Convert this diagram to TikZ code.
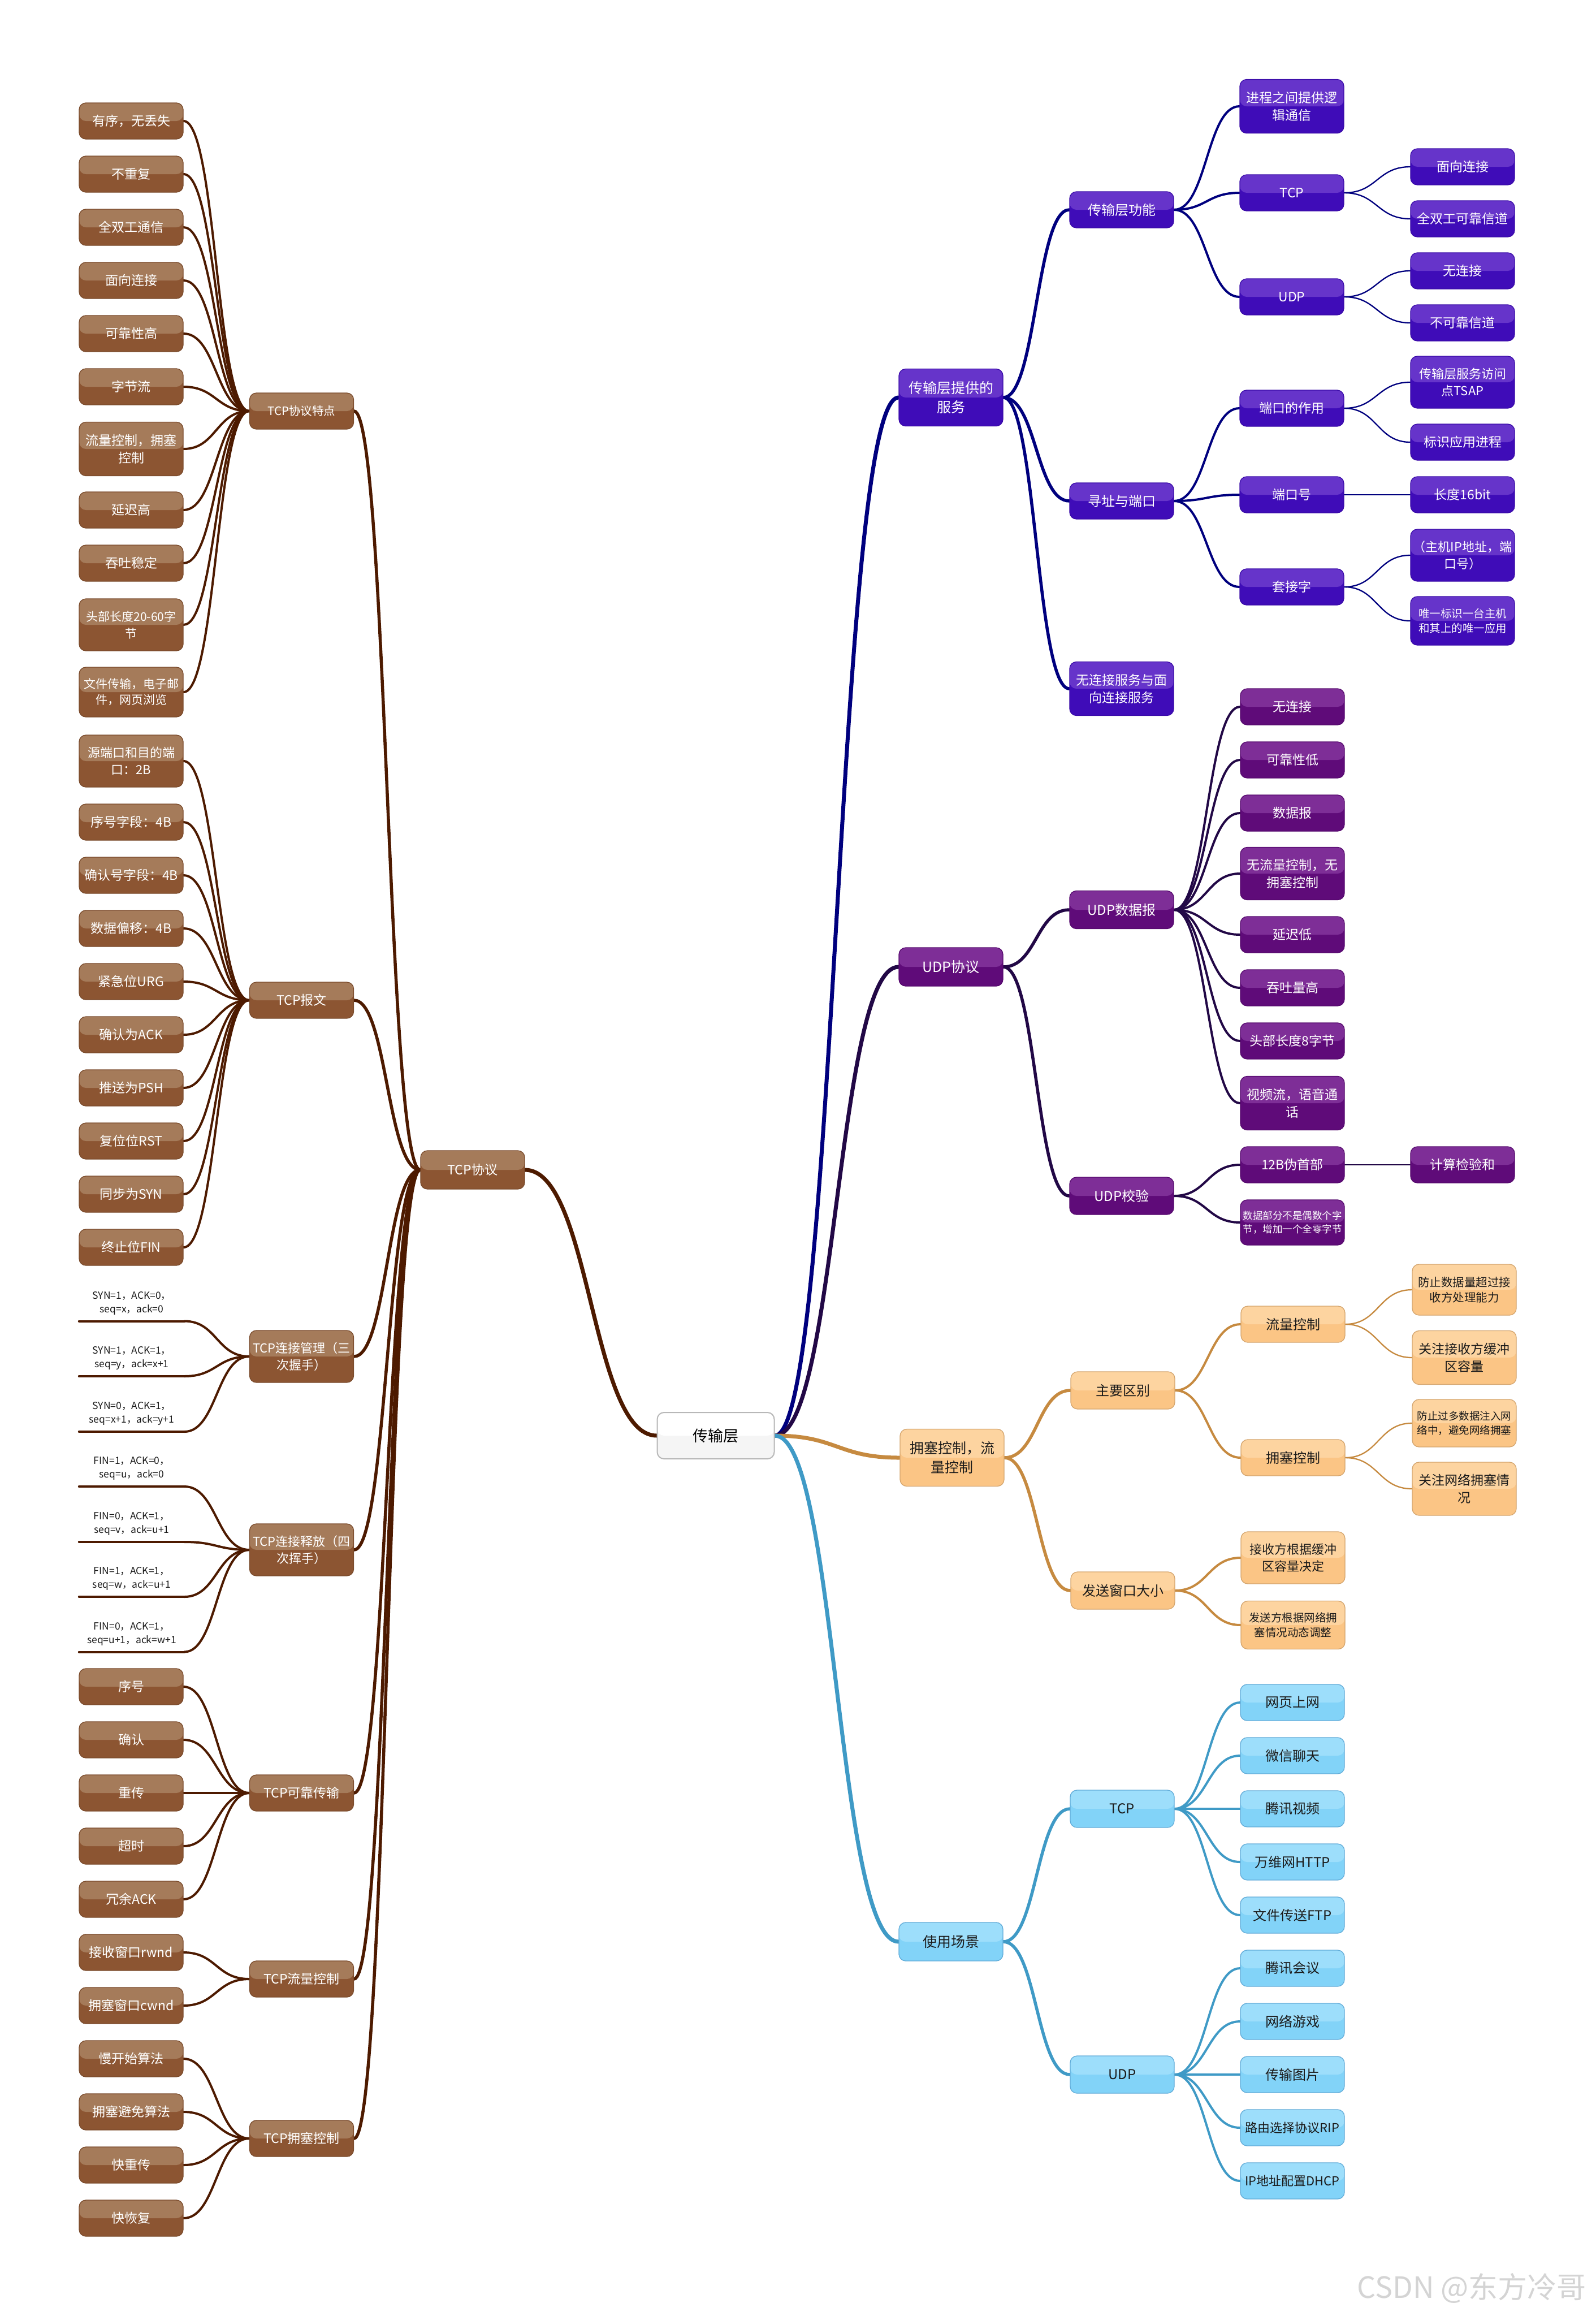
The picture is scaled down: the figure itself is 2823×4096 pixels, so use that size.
\documentclass[tikz,border=0pt]{standalone}
\usepackage{fontspec}
\setmainfont{Noto Sans CJK SC}
\usetikzlibrary{calc}
\definecolor{brT}{HTML}{A57B5A}
\definecolor{brB}{HTML}{8C5532}
\definecolor{brD}{HTML}{7A4B2C}
\definecolor{brE}{HTML}{4D1A00}
\definecolor{inT}{HTML}{6634CA}
\definecolor{inB}{HTML}{3F0CB8}
\definecolor{inD}{HTML}{3A0BA8}
\definecolor{inE}{HTML}{00007E}
\definecolor{puT}{HTML}{7E2E97}
\definecolor{puB}{HTML}{5F0B79}
\definecolor{puD}{HTML}{560A6E}
\definecolor{puE}{HTML}{220846}
\definecolor{orT}{HTML}{FDD4A0}
\definecolor{orB}{HTML}{FBC585}
\definecolor{orD}{HTML}{D4A56E}
\definecolor{orE}{HTML}{C68A40}
\definecolor{blT}{HTML}{9DDEFB}
\definecolor{blB}{HTML}{82D3F8}
\definecolor{blD}{HTML}{62ACD8}
\definecolor{blE}{HTML}{3F9AC6}
\definecolor{rtD}{HTML}{B8B8B8}
\definecolor{txD}{HTML}{1A1A1A}

\newcommand\myfs[2]{\fontsize{#1pt}{#2pt}\selectfont}
\newcommand\lnk[3]{\draw[#1] let \p1=(#2), \p2=(#3), \n1={0.5*(\x2-\x1)} in (\p1) .. controls (\x1+\n1,\y1) and (\x2-\n1,\y2) .. (\p2);}

\pgfdeclarelayer{paper}
\pgfdeclarelayer{bg}
\pgfsetlayers{paper,bg,main}

\tikzset{
 box/.style={rounded corners=12pt, minimum width=184pt, minimum height=64pt, inner sep=1pt, align=center, line width=1.3pt, font=\myfs{23}{31}},
 topfill/.style={path picture={\fill[#1] (path picture bounding box.north west) rectangle (path picture bounding box.east);}},
 nbr/.style={box, fill=brB, draw=brD, text=white, topfill=brT},
 nin/.style={box, fill=inB, draw=inD, text=white, topfill=inT},
 npu/.style={box, fill=puB, draw=puD, text=white, topfill=puT},
 nor/.style={box, fill=orB, draw=orD, text=txD, topfill=orT, font=\myfs{24}{32}},
 nbl/.style={box, fill=blB, draw=blD, text=txD, topfill=blT, font=\myfs{24}{32}},
 nrt/.style={box, fill=white!96!black, draw=rtD, text=black, topfill=white, line width=2pt},
 tleaf/.style={anchor=south, minimum width=186pt, inner xsep=0pt, inner ysep=11pt, align=center, font=\myfs{17.5}{24}, text=txD},
 eA/.style={line cap=round, line width=7pt},
 eB/.style={line cap=round, line width=5.5pt},
 eC/.style={line cap=round, line width=4pt},
 eD/.style={line cap=round, line width=2.3pt},
}

\begin{document}
\begin{tikzpicture}[x=1pt,y=-1pt]
\begin{pgfonlayer}{paper}
\fill[white] (0,0) rectangle (2823,4096);
\end{pgfonlayer}
\useasboundingbox (0,0) rectangle (2823,4096);

% ---------- root ----------
\node[nrt, minimum width=207pt, minimum height=82pt, font=\myfs{27}{32}] (root) at (1266,2539) {传输层};

% ---------- TCP protocol (left) ----------
\node[nbr, minimum height=68pt] (tcp) at (836,2069) {TCP协议};

\node[nbr, font=\myfs{20.5}{28}] (tf) at (533.5,727) {TCP协议特点};
\node[nbr] (a1) at (232,214) {有序，无丢失};
\node[nbr] (a2) at (232,308) {不重复};
\node[nbr] (a3) at (232,402) {全双工通信};
\node[nbr] (a4) at (232,496) {面向连接};
\node[nbr] (a5) at (232,590) {可靠性高};
\node[nbr] (a6) at (232,684) {字节流};
\node[nbr, minimum height=95pt] (a7) at (232,794) {流量控制，拥塞\\控制};
\node[nbr] (a8) at (232,902) {延迟高};
\node[nbr] (a9) at (232,996) {吞吐稳定};
\node[nbr, minimum height=92pt, font=\myfs{21}{30}] (a10) at (232,1105) {头部长度20-60字\\节};
\node[nbr, minimum height=88pt, font=\myfs{21}{28}] (a11) at (232,1224) {文件传输，电子邮\\件，网页浏览};

\node[nbr] (tb) at (533.5,1769) {TCP报文};
\node[nbr, minimum height=92pt, font=\myfs{22}{30}] (b1) at (232,1346) {源端口和目的端\\口：2B};
\node[nbr] (b2) at (232,1454) {序号字段：4B};
\node[nbr] (b3) at (232,1548) {确认号字段：4B};
\node[nbr] (b4) at (232,1642) {数据偏移：4B};
\node[nbr] (b5) at (232,1736) {紧急位URG};
\node[nbr] (b6) at (232,1830) {确认为ACK};
\node[nbr] (b7) at (232,1924) {推送为PSH};
\node[nbr] (b8) at (232,2018) {复位位RST};
\node[nbr] (b9) at (232,2112) {同步为SYN};
\node[nbr] (b10) at (232,2206) {终止位FIN};

\node[nbr, minimum height=92pt, font=\myfs{22}{30}] (tc) at (533.5,2399) {TCP连接管理（三\\次握手）};
\node[tleaf] (s1) at (233,2336.5) {SYN=1，ACK=0，\\seq=x，ack=0};
\node[tleaf] (s2) at (233,2434) {SYN=1，ACK=1，\\seq=y，ack=x+1};
\node[tleaf] (s3) at (233,2532) {SYN=0，ACK=1，\\seq=x+1，ack=y+1};

\node[nbr, minimum height=92pt, font=\myfs{22}{30}] (tr) at (533.5,2741) {TCP连接释放（四\\次挥手）};
\node[tleaf] (r1) at (233,2629) {FIN=1，ACK=0，\\seq=u，ack=0};
\node[tleaf] (r2) at (233,2727) {FIN=0，ACK=1，\\seq=v，ack=u+1};
\node[tleaf] (r3) at (233,2824) {FIN=1，ACK=1，\\seq=w，ack=u+1};
\node[tleaf] (r4) at (233,2921.5) {FIN=0，ACK=1，\\seq=u+1，ack=w+1};

\node[nbr] (tk) at (533.5,3171) {TCP可靠传输};
\node[nbr] (k1) at (232,2983) {序号};
\node[nbr] (k2) at (232,3077) {确认};
\node[nbr] (k3) at (232,3171) {重传};
\node[nbr] (k4) at (232,3265) {超时};
\node[nbr] (k5) at (232,3359) {冗余ACK};

\node[nbr] (tw) at (533.5,3500) {TCP流量控制};
\node[nbr] (w1) at (232,3453) {接收窗口rwnd};
\node[nbr] (w2) at (232,3547) {拥塞窗口cwnd};

\node[nbr] (ty) at (533.5,3782) {TCP拥塞控制};
\node[nbr] (y1) at (232,3641) {慢开始算法};
\node[nbr] (y2) at (232,3735) {拥塞避免算法};
\node[nbr] (y3) at (232,3829) {快重传};
\node[nbr] (y4) at (232,3923) {快恢复};

% ---------- services (right, indigo) ----------
\node[nin, minimum height=101pt, font=\myfs{25}{34}] (srv) at (1682,703) {传输层提供的\\服务};
\node[nin, font=\myfs{24}{32}] (fn) at (1984,371) {传输层功能};
\node[nin, font=\myfs{24}{32}] (addr) at (1984,886) {寻址与端口};
\node[nin, minimum height=95pt] (svc) at (1984,1218) {无连接服务与面\\向连接服务};
\node[nin, minimum height=95pt] (p1) at (2285,188) {进程之间提供逻\\辑通信};
\node[nin] (ft) at (2285,341) {TCP};
\node[nin] (fu) at (2285,525) {UDP};
\node[nin] (pr) at (2285,722) {端口的作用};
\node[nin] (pn) at (2285,875) {端口号};
\node[nin] (sk) at (2285,1038) {套接字};
\node[nin] (q1) at (2587,295) {面向连接};
\node[nin] (q2) at (2587,387) {全双工可靠信道};
\node[nin] (q3) at (2587,479) {无连接};
\node[nin] (q4) at (2587,571) {不可靠信道};
\node[nin, minimum height=92pt, font=\myfs{22}{30}] (q5) at (2587,676) {传输层服务访问\\点TSAP};
\node[nin] (q6) at (2587,782) {标识应用进程};
\node[nin] (q7) at (2587,875) {长度16bit};
\node[nin, minimum height=92pt, font=\myfs{22}{30}] (q8) at (2587,982) {（主机IP地址，端\\口号）};
\node[nin, minimum height=86pt, font=\myfs{19.5}{26}] (q9) at (2587,1098) {唯一标识一台主机\\和其上的唯一应用};

% ---------- UDP (right, purple) ----------
\node[npu, minimum height=68pt, font=\myfs{25}{32}] (udp) at (1682,1710) {UDP协议};
\node[npu, minimum height=67pt, font=\myfs{24}{32}] (dg) at (1984,1609) {UDP数据报};
\node[npu, minimum height=66pt, font=\myfs{24}{32}] (ck) at (1984,2115) {UDP校验};
\node[npu] (u1) at (2286,1250) {无连接};
\node[npu] (u2) at (2286,1344) {可靠性低};
\node[npu] (u3) at (2286,1438) {数据报};
\node[npu, minimum height=93pt] (u4) at (2286,1545) {无流量控制，无\\拥塞控制};
\node[npu] (u5) at (2286,1653) {延迟低};
\node[npu] (u6) at (2286,1747) {吞吐量高};
\node[npu] (u7) at (2286,1841) {头部长度8字节};
\node[npu, minimum height=95pt] (u8) at (2286,1951) {视频流，语音通\\话};
\node[npu] (u9) at (2286,2060) {12B伪首部};
\node[npu, minimum height=80pt, font=\myfs{17.5}{24}] (u10) at (2286,2162) {数据部分不是偶数个字\\节，增加一个全零字节};
\node[npu] (u11) at (2587,2060) {计算检验和};

% ---------- congestion (right, orange) ----------
\node[nor, minimum height=101pt, font=\myfs{25}{34}] (cg) at (1684,2578) {拥塞控制，流\\量控制};
\node[nor, minimum height=66pt] (df) at (1986,2459) {主要区别};
\node[nor, minimum height=66pt] (wn) at (1986,2813) {发送窗口大小};
\node[nor] (fc) at (2287,2342) {流量控制};
\node[nor] (cc) at (2287,2578) {拥塞控制};
\node[nor, minimum height=92pt, font=\myfs{22}{30}] (x1) at (2287,2755) {接收方根据缓冲\\区容量决定};
\node[nor, minimum height=85pt, font=\myfs{19.5}{26}] (x2) at (2287,2874) {发送方根据网络拥\\塞情况动态调整};
\node[nor, minimum height=90pt, font=\myfs{20.5}{27}] (o1) at (2590,2281) {防止数据量超过接\\收方处理能力};
\node[nor, minimum height=95pt, font=\myfs{23}{31}] (o2) at (2590,2401) {关注接收方缓冲\\区容量};
\node[nor, minimum height=84pt, font=\myfs{18.5}{25}] (o3) at (2590,2517) {防止过多数据注入网\\络中，避免网络拥塞};
\node[nor, minimum height=94pt, font=\myfs{23}{31}] (o4) at (2590,2633) {关注网络拥塞情\\况};

% ---------- usage (right, light blue) ----------
\node[nbl, minimum height=68pt, font=\myfs{25}{32}] (us) at (1682,3434) {使用场景};
\node[nbl, minimum height=66pt] (bt) at (1985,3199) {TCP};
\node[nbl, minimum height=66pt] (bu) at (1985,3669) {UDP};
\node[nbl] (v1) at (2286,3011) {网页上网};
\node[nbl] (v2) at (2286,3105) {微信聊天};
\node[nbl] (v3) at (2286,3199) {腾讯视频};
\node[nbl] (v4) at (2286,3293) {万维网HTTP};
\node[nbl] (v5) at (2286,3387) {文件传送FTP};
\node[nbl] (v6) at (2286,3481) {腾讯会议};
\node[nbl] (v7) at (2286,3575) {网络游戏};
\node[nbl] (v8) at (2286,3669) {传输图片};
\node[nbl, font=\myfs{22}{30}] (v9) at (2286,3763) {路由选择协议RIP};
\node[nbl, font=\myfs{22}{30}] (v10) at (2286,3857) {IP地址配置DHCP};

% watermark
\node[text=black!17, font=\myfs{52}{60}] (wm) at (2603,4047) {CSDN @东方冷哥};

% ---------- connectors ----------
\begin{pgfonlayer}{bg}
% left
\lnk{eA,brE}{tcp.east}{root.west}
\foreach \nn in {tf,tb,tc,tr,tk,tw,ty} {\lnk{eB,brE}{\nn.east}{tcp.west}}
\foreach \i in {1,...,11} {\lnk{eC,brE}{a\i.east}{tf.west}}
\foreach \i in {1,...,10} {\lnk{eC,brE}{b\i.east}{tb.west}}
\foreach \nn in {s1,s2,s3} {\draw[eC,brE] (\nn.south west) -- (\nn.south east); \lnk{eC,brE}{\nn.south east}{tc.west}}
\foreach \nn in {r1,r2,r3,r4} {\draw[eC,brE] (\nn.south west) -- (\nn.south east); \lnk{eC,brE}{\nn.south east}{tr.west}}
\foreach \i in {1,...,5} {\lnk{eC,brE}{k\i.east}{tk.west}}
\foreach \i in {1,2} {\lnk{eC,brE}{w\i.east}{tw.west}}
\foreach \i in {1,...,4} {\lnk{eC,brE}{y\i.east}{ty.west}}
% right: services
\lnk{eA,inE}{root.east}{srv.west}
\foreach \nn in {fn,addr,svc} {\lnk{eB,inE}{srv.east}{\nn.west}}
\foreach \nn in {p1,ft,fu} {\lnk{eC,inE}{fn.east}{\nn.west}}
\foreach \nn in {pr,pn,sk} {\lnk{eC,inE}{addr.east}{\nn.west}}
\foreach \nn in {q1,q2} {\lnk{eD,inE}{ft.east}{\nn.west}}
\foreach \nn in {q3,q4} {\lnk{eD,inE}{fu.east}{\nn.west}}
\foreach \nn in {q5,q6} {\lnk{eD,inE}{pr.east}{\nn.west}}
\lnk{eD,inE}{pn.east}{q7.west}
\foreach \nn in {q8,q9} {\lnk{eD,inE}{sk.east}{\nn.west}}
% right: udp
\lnk{eA,puE}{root.east}{udp.west}
\foreach \nn in {dg,ck} {\lnk{eB,puE}{udp.east}{\nn.west}}
\foreach \i in {1,...,8} {\lnk{eC,puE}{dg.east}{u\i.west}}
\foreach \nn in {u9,u10} {\lnk{eC,puE}{ck.east}{\nn.west}}
\lnk{eD,puE}{u9.east}{u11.west}
% right: congestion
\lnk{eA,orE}{root.east}{cg.west}
\foreach \nn in {df,wn} {\lnk{eB,orE}{cg.east}{\nn.west}}
\foreach \nn in {fc,cc} {\lnk{eC,orE}{df.east}{\nn.west}}
\foreach \nn in {x1,x2} {\lnk{eC,orE}{wn.east}{\nn.west}}
\foreach \nn in {o1,o2} {\lnk{eD,orE}{fc.east}{\nn.west}}
\foreach \nn in {o3,o4} {\lnk{eD,orE}{cc.east}{\nn.west}}
% right: usage
\lnk{eA,blE}{root.east}{us.west}
\foreach \nn in {bt,bu} {\lnk{eB,blE}{us.east}{\nn.west}}
\foreach \i in {1,...,5} {\lnk{eC,blE}{bt.east}{v\i.west}}
\foreach \i in {6,...,10} {\lnk{eC,blE}{bu.east}{v\i.west}}
\end{pgfonlayer}
\end{tikzpicture}
\end{document}
